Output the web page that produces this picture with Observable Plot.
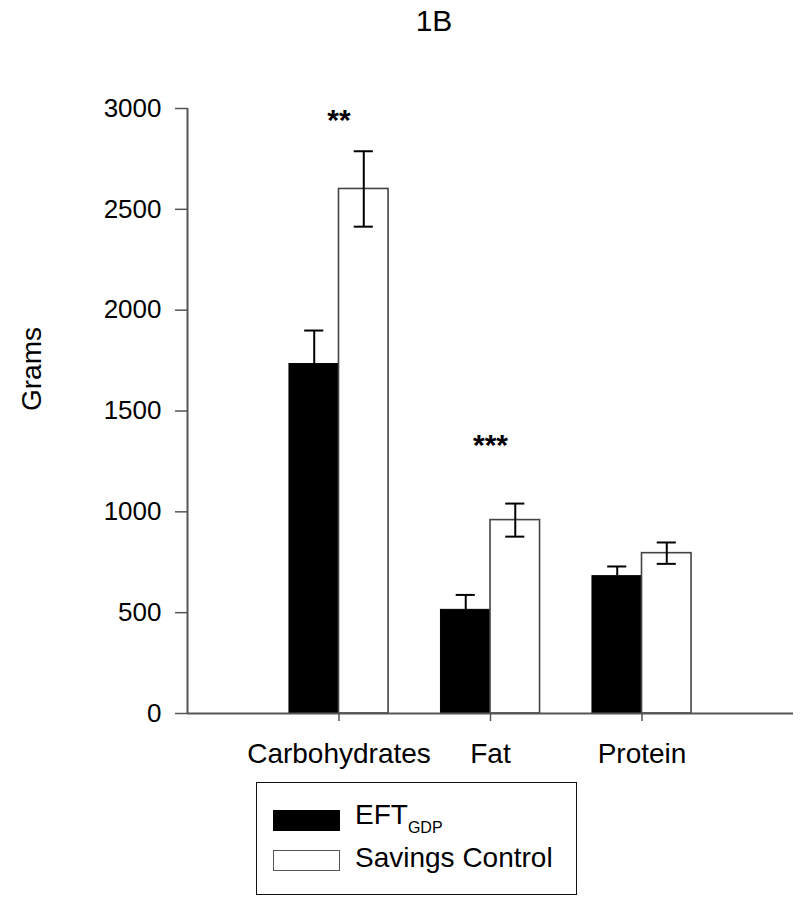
<!DOCTYPE html>
<html>
<head>
<meta charset="utf-8">
<script src="https://cdn.jsdelivr.net/npm/d3@7"></script>
<script src="https://cdn.jsdelivr.net/npm/@observablehq/plot@0.6"></script>
<style>
  html, body { margin: 0; padding: 0; background: #fff; }
  body { width: 800px; height: 898px; position: relative; font-family: "Liberation Sans", Arial, sans-serif; color: #000; overflow: hidden; }
  #title { height: 60px; width: 868px; text-align: center; font-size: 30px; line-height: 30px; padding-top: 6px; box-sizing: border-box; }
  #chart { position: absolute; left: 0; top: 60px; }
  #legend { position: absolute; left: 256px; top: 782px; width: 321px; height: 113px; box-sizing: border-box; border: 1.5px solid #111; }
  .sw { position: absolute; left: 16px; width: 67px; height: 21px; box-sizing: border-box; }
  .lt { position: absolute; left: 98px; font-size: 28px; line-height: 28px; white-space: nowrap; }
  .lt sub { font-size: 16px; vertical-align: -9px; line-height: 0; }
</style>
</head>
<body>
<div id="title">1B</div>
<div id="chart"></div>
<div id="legend">
  <div class="sw" style="top:27px;background:#000;"></div>
  <div class="lt" style="top:18px;">EFT<sub>GDP</sub></div>
  <div class="sw" style="top:67px;background:#fff;border:1px solid #555;"></div>
  <div class="lt" style="top:61px;">Savings Control</div>
</div>
<script>
// Data
const categories = ["Carbohydrates", "Fat", "Protein"];
const seriesNames = ["EFT_GDP", "Savings Control"];
const eftMeans = [1733, 514, 681];
const eftSE = [166, 74, 48];
const savingsMeans = [2601, 959, 795];
const savingsSE = [187, 82, 53];
const sigLabels = ["**", "***", ""];
const sigY = [2940, 1330, 0];
const yTicks = [0, 500, 1000, 1500, 2000, 2500, 3000];

// Build table
const barW = 0.327;
const rows = [];
categories.forEach((c, i) => {
  const pos = i + 1;
  rows.push({cat: c, series: seriesNames[0], x1: pos - barW, x2: pos, mean: eftMeans[i], se: eftSE[i]});
  rows.push({cat: c, series: seriesNames[1], x1: pos, x2: pos + barW, mean: savingsMeans[i], se: savingsSE[i]});
});
rows.forEach(r => { r.xc = (r.x1 + r.x2) / 2; });
const capHalf = 0.063;
const sig = categories.map((c, i) => ({pos: i + 1, label: sigLabels[i], y: sigY[i]})).filter(d => d.label);

const chart = Plot.plot({
  width: 800,
  height: 720,
  marginLeft: 187,
  marginRight: 7,
  marginTop: 48,
  marginBottom: 67,
  style: {fontFamily: '"Liberation Sans", Arial, sans-serif', color: "#000", background: "#fff"},
  x: {type: "linear", domain: [0, 4]},
  y: {domain: [0, 3000]},
  marks: [
    Plot.rect(rows.filter(r => r.series === seriesNames[0]), {x1: "x1", x2: "x2", y1: 0, y2: "mean", fill: "#000", stroke: "#000", strokeWidth: 1}),
    Plot.rect(rows.filter(r => r.series === seriesNames[1]), {x1: "x1", x2: "x2", y1: 0, y2: "mean", fill: "#fff", stroke: "#444", strokeWidth: 1.6}),
    Plot.ruleX(rows, {x: "xc", y1: d => d.mean - d.se, y2: d => d.mean + d.se, stroke: "#000", strokeWidth: 2}),
    Plot.ruleY(rows, {y: d => d.mean + d.se, x1: d => d.xc - capHalf, x2: d => d.xc + capHalf, stroke: "#000", strokeWidth: 2}),
    Plot.ruleY(rows, {y: d => d.mean - d.se, x1: d => d.xc - capHalf, x2: d => d.xc + capHalf, stroke: "#000", strokeWidth: 2}),
    Plot.ruleX([0], {y1: 0, y2: 3000, stroke: "#555", strokeWidth: 2}),
    Plot.ruleY([0], {stroke: "#555", strokeWidth: 2}),
    Plot.axisY({ticks: yTicks, tickSize: 12, tickPadding: 14, fontSize: 26, stroke: "#555", strokeWidth: 1.5, label: null, tickFormat: d => String(d)}),
    Plot.axisX({ticks: [1, 2, 3], tickSize: 8, tickPadding: 22, fontSize: 28, stroke: "#555", strokeWidth: 1.5, label: null, tickFormat: d => categories[d - 1]}),
    Plot.text(sig, {x: "pos", y: "y", text: "label", fontSize: 30, fontWeight: "bold"}),
    Plot.text(["Grams"], {frameAnchor: "left", dx: -155, rotate: -90, fontSize: 28})
  ]
});
document.getElementById("chart").appendChild(chart);
</script>
</body>
</html>
